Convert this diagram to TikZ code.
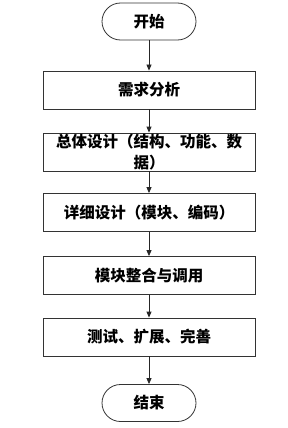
\documentclass[tikz,border=0pt]{standalone}
\usepackage{fontspec}
\newfontfamily\cjk{Noto Sans CJK SC}
\usetikzlibrary{arrows.meta}
\begin{document}
\begin{tikzpicture}[x=1pt,y=-1pt,
  box/.style={draw=black!80, line width=0.8pt, minimum width=212pt, minimum height=38pt, inner sep=0pt,
    font=\cjk\bfseries\fontsize{15.5}{20.5}\selectfont, align=center},
  term/.style={box, minimum width=94pt, minimum height=37pt, rounded corners=18.5pt},
  arr/.style={-{Triangle[length=6pt,width=5pt]}, line width=0.8pt, draw=black!85}]
\useasboundingbox (0,0) rectangle (288,428);
\node[term] (s) at (149,21.5) {开始};
\node[box] (a) at (149,90) {需求分析};
\node[box] (b) at (149,152) {总体设计（结构、功能、数\\据）};
\node[box] (c) at (149,212.5) {详细设计（模块、编码）};
\node[box] (d) at (149,275.5) {模块整合与调用};
\node[box] (e) at (149,337) {测试、扩展、完善};
\node[term] (f) at (149,403) {结束};
\draw[arr] (s) -- (a);
\draw[arr] (a) -- (b);
\draw[arr] (b) -- (c);
\draw[arr] (c) -- (d);
\draw[arr] (d) -- (e);
\draw[arr] (e) -- (f);
\end{tikzpicture}
\end{document}
